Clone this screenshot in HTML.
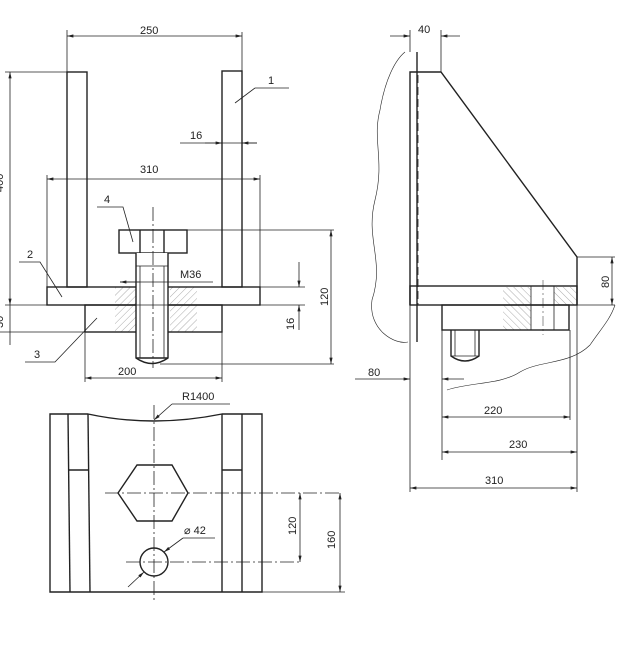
<!DOCTYPE html>
<html><head><meta charset="utf-8"><style>
html,body{margin:0;padding:0;background:#fff;}
svg{display:block;}
text{font-family:"Liberation Sans",sans-serif;font-size:11px;fill:#222;}
</style></head><body>
<svg width="634" height="657" viewBox="0 0 634 657" xmlns="http://www.w3.org/2000/svg">
<defs>
<pattern id="h" patternUnits="userSpaceOnUse" width="5" height="5" patternTransform="rotate(45)">
<line x1="0" y1="0" x2="0" y2="5" stroke="#888" stroke-width="0.7"/></pattern>
<pattern id="h2" patternUnits="userSpaceOnUse" width="5" height="5" patternTransform="rotate(-45)">
<line x1="0" y1="0" x2="0" y2="5" stroke="#888" stroke-width="0.7"/></pattern>
<marker id="a" markerWidth="8" markerHeight="4" refX="8" refY="2" orient="auto-start-reverse"><path d="M0,0 L8,2 L0,4z" fill="#222"/></marker>
</defs>
<g fill="none" stroke="#222" stroke-width="0.8">
<!-- FRONT VIEW -->
<rect x="115" y="287" width="22" height="45" fill="url(#h)" stroke="none"/>
<rect x="170" y="287" width="27" height="45" fill="url(#h)" stroke="none"/>
<g stroke-width="1.4">
<rect x="67" y="72" width="20" height="215"/>
<rect x="222" y="71" width="20" height="216"/>
<rect x="47" y="287" width="213" height="18"/>
<rect x="85" y="305" width="137" height="27"/>
<rect x="119" y="230" width="68" height="23" fill="#fff"/>
<line x1="140" y1="230" x2="140" y2="253"/><line x1="164" y1="230" x2="164" y2="253"/>
<path d="M136,253 V358 Q152,369 168,358 V253" fill="#fff"/>
<line x1="136" y1="358" x2="168" y2="358"/>
</g>
<line x1="140" y1="266" x2="140" y2="358"/><line x1="164" y1="266" x2="164" y2="358"/>
<line x1="136" y1="266" x2="168" y2="266"/>
<line x1="153" y1="207" x2="153" y2="368" stroke-dasharray="14,3,2,3"/>
<line x1="67" y1="30" x2="67" y2="72"/><line x1="242" y1="32" x2="242" y2="71"/>
<line x1="67" y1="36" x2="242" y2="36" marker-start="url(#a)" marker-end="url(#a)"/>
<line x1="5" y1="72" x2="87" y2="72"/>
<line x1="10" y1="72" x2="10" y2="305" marker-start="url(#a)" marker-end="url(#a)"/>
<line x1="5" y1="305" x2="305" y2="305"/>
<line x1="0" y1="332" x2="85" y2="332"/>
<line x1="10" y1="305" x2="10" y2="345"/>
<line x1="47" y1="175" x2="47" y2="287"/><line x1="260" y1="175" x2="260" y2="287"/>
<line x1="47" y1="179" x2="260" y2="179" marker-start="url(#a)" marker-end="url(#a)"/>
<line x1="180" y1="143" x2="257" y2="143"/>
<path d="M205,143 H222" marker-end="url(#a)"/><path d="M257,143 H242" marker-end="url(#a)"/>
<line x1="120" y1="282" x2="213" y2="282"/><path d="M140,282 H120" marker-end="url(#a)"/>
<line x1="187" y1="230" x2="334" y2="230"/><line x1="160" y1="364" x2="334" y2="364"/>
<line x1="331" y1="230" x2="331" y2="364" marker-start="url(#a)" marker-end="url(#a)"/>
<line x1="260" y1="287" x2="305" y2="287"/>
<line x1="299" y1="262" x2="299" y2="287" marker-end="url(#a)"/>
<line x1="299" y1="330" x2="299" y2="305" marker-end="url(#a)"/>
<line x1="85" y1="332" x2="85" y2="382"/><line x1="222" y1="332" x2="222" y2="382"/>
<line x1="85" y1="378" x2="222" y2="378" marker-start="url(#a)" marker-end="url(#a)"/>
<polyline points="255,88 289,88"/><line x1="255" y1="88" x2="235" y2="103"/>
<polyline points="97,207 123,207 133,242"/>
<polyline points="19,262 40,262 62,297"/>
<polyline points="25,362 55,362 97,318"/>
<!-- SIDE VIEW -->
<path d="M405,52 C395,60 385,80 380,110 C372,140 385,160 375,200 C365,240 385,260 372,300 C368,330 395,345 408,342" stroke-width="0.6"/>
<path d="M615,305 C610,320 600,330 590,345 C570,365 540,360 520,372 C500,385 470,382 447,390" stroke-width="0.6"/>
<rect x="503" y="287" width="28" height="43" fill="url(#h2)" stroke="none"/>
<rect x="554" y="287" width="23" height="18" fill="url(#h2)" stroke="none"/>
<g stroke-width="1.4">
<line x1="417" y1="52" x2="417" y2="342"/>
<polyline points="410,305 410,72 441,72 577,257 577,305"/>
<rect x="410" y="286" width="167" height="19"/>
<rect x="442" y="305" width="127" height="25"/>
<path d="M451,330 V356 Q465,366 479,356 V330"/>
</g>
<line x1="531" y1="286" x2="531" y2="330"/><line x1="554" y1="286" x2="554" y2="330"/>
<line x1="455" y1="330" x2="455" y2="356"/><line x1="475" y1="330" x2="475" y2="356"/>
<line x1="451" y1="356" x2="479" y2="356"/>
<line x1="418" y1="75" x2="418" y2="305" stroke-dasharray="8,4"/>
<line x1="543" y1="280" x2="543" y2="335" stroke-dasharray="10,3,2,3" stroke-width="0.5"/>
<line x1="410" y1="30" x2="410" y2="52"/><line x1="441" y1="30" x2="441" y2="72"/>
<line x1="390" y1="36" x2="410" y2="36" marker-end="url(#a)"/><line x1="460" y1="36" x2="441" y2="36" marker-end="url(#a)"/>
<line x1="577" y1="257" x2="615" y2="257"/><line x1="577" y1="305" x2="615" y2="305"/>
<line x1="612" y1="257" x2="612" y2="305" marker-start="url(#a)" marker-end="url(#a)"/>
<line x1="355" y1="379" x2="410" y2="379" marker-end="url(#a)"/><line x1="464" y1="379" x2="442" y2="379" marker-end="url(#a)"/>
<line x1="410" y1="305" x2="410" y2="492"/><line x1="442" y1="330" x2="442" y2="460"/>
<line x1="570" y1="330" x2="570" y2="420"/><line x1="577" y1="305" x2="577" y2="492"/>
<line x1="442" y1="417" x2="570" y2="417" marker-start="url(#a)" marker-end="url(#a)"/>
<line x1="442" y1="452" x2="577" y2="452" marker-start="url(#a)" marker-end="url(#a)"/>
<line x1="410" y1="488" x2="577" y2="488" marker-start="url(#a)" marker-end="url(#a)"/>
<!-- TOP VIEW -->
<g stroke-width="1.4">
<path d="M50,414 H88 Q153,428 222,414 H262 V592 H50 Z"/>
<line x1="68" y1="414" x2="70" y2="592"/><line x1="88" y1="414" x2="90" y2="592"/>
<line x1="222" y1="414" x2="222" y2="592"/><line x1="242" y1="414" x2="242" y2="592"/>
<line x1="68" y1="470" x2="88" y2="470"/><line x1="222" y1="470" x2="242" y2="470"/>
<polygon points="118,493 137,465 172,465 188,493 172,521 137,521"/>
<circle cx="154" cy="562" r="14"/>
</g>
<line x1="154" y1="405" x2="154" y2="602" stroke-dasharray="14,3,2,3"/>
<line x1="105" y1="493" x2="342" y2="493" stroke-dasharray="14,3,2,3"/>
<line x1="126" y1="562" x2="302" y2="562" stroke-dasharray="14,3,2,3"/>
<line x1="262" y1="592" x2="345" y2="592"/>
<line x1="300" y1="493" x2="300" y2="562" marker-start="url(#a)" marker-end="url(#a)"/>
<line x1="340" y1="493" x2="340" y2="592" marker-start="url(#a)" marker-end="url(#a)"/>
<line x1="183" y1="538" x2="215" y2="538"/>
<line x1="128" y1="587" x2="144" y2="572" marker-end="url(#a)"/>
<line x1="183" y1="538" x2="164" y2="552" marker-end="url(#a)"/>
<line x1="172" y1="404" x2="230" y2="404"/>
<line x1="172" y1="404" x2="154" y2="420" marker-end="url(#a)"/>
</g>
<g>
<text x="140" y="34">250</text>
<text x="140" y="173">310</text>
<text x="190" y="139">16</text>
<text x="268" y="84">1</text>
<text x="104" y="203">4</text>
<text x="27" y="258">2</text>
<text x="34" y="358">3</text>
<text x="180" y="278">M36</text>
<text x="118" y="375">200</text>
<text transform="translate(3,192) rotate(-90)">400</text>
<text transform="translate(3,328) rotate(-90)">30</text>
<text transform="translate(328,306) rotate(-90)">120</text>
<text transform="translate(294,330) rotate(-90)">16</text>
<text x="418" y="33">40</text>
<text transform="translate(609,288) rotate(-90)">80</text>
<text x="368" y="376">80</text>
<text x="484" y="414">220</text>
<text x="509" y="448">230</text>
<text x="485" y="484">310</text>
<text x="182" y="400">R1400</text>
<text x="184" y="534">⌀ 42</text>
<text transform="translate(296,535) rotate(-90)">120</text>
<text transform="translate(335,549) rotate(-90)">160</text>
</g>
</svg>
</body></html>
